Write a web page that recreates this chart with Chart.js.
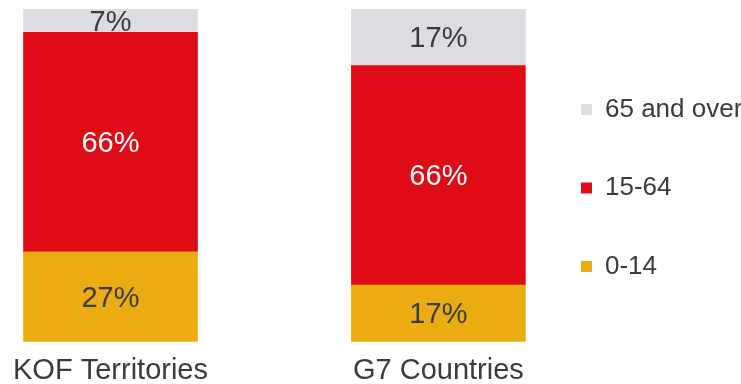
<!DOCTYPE html>
<html>
<head>
<meta charset="utf-8">
<script src="https://cdn.jsdelivr.net/npm/chart.js@4/dist/chart.umd.min.js"></script>
<style>
  html, body { margin: 0; padding: 0; background: #ffffff; }
  #wrap { width: 741px; height: 384px; }
</style>
</head>
<body>
<div id="wrap"><canvas id="c" width="741" height="384"></canvas></div>
<script>
// Population by age group, share of total (%)
const categories = ['KOF Territories', 'G7 Countries'];
const age0to14 = [27, 17];
const age15to64 = [66, 66];
const age65plus = [7, 17];
const seriesNames = ['0-14', '15-64', '65 and over'];

const FONT = '"Liberation Sans", Arial, Helvetica, sans-serif';
const TEXT = '#3b3b3b';

function points(values) {
  return values.map((v, i) => ({ x: i, y: v }));
}

// Writes each segment's percentage in the middle of its bar segment
const segmentLabels = {
  id: 'segmentLabels',
  afterDatasetsDraw(chart) {
    const ctx = chart.ctx;
    ctx.save();
    ctx.font = '29px ' + FONT;
    ctx.textAlign = 'center';
    ctx.textBaseline = 'middle';
    chart.data.datasets.forEach((ds, di) => {
      const meta = chart.getDatasetMeta(di);
      meta.data.forEach((bar, j) => {
        const p = bar.getProps(['x', 'y', 'base'], true);
        ctx.fillStyle = ds.labelColor;
        ctx.fillText(ds.data[j].y + '%', p.x, (p.y + p.base) / 2 + 2);
      });
    });
    ctx.restore();
  }
};

new Chart(document.getElementById('c'), {
  type: 'bar',
  data: {
    datasets: [
      { label: seriesNames[0], data: points(age0to14), backgroundColor: '#EBAC12', labelColor: TEXT },
      { label: seriesNames[1], data: points(age15to64), backgroundColor: '#DF0C17', labelColor: '#ffffff' },
      { label: seriesNames[2], data: points(age65plus), backgroundColor: '#DCDDE1', labelColor: TEXT }
    ]
  },
  options: {
    responsive: false,
    animation: false,
    events: [],
    barThickness: 174,
    borderWidth: 0,
    layout: { padding: { top: 9, bottom: 0, left: 0, right: 0 } },
    scales: {
      x: {
        type: 'linear',
        stacked: true,
        offset: false,
        min: -0.337,
        max: 1.2745,
        grid: { display: false, drawTicks: false },
        border: { display: false },
        afterBuildTicks(scale) {
          scale.ticks = categories.map((_, i) => ({ value: i }));
        },
        afterFit(scale) {
          scale.height = 42.3;
        },
        ticks: {
          padding: 12,
          color: TEXT,
          font: { family: FONT, size: 29 },
          maxRotation: 0,
          autoSkip: false,
          callback: (v) => categories[v]
        }
      },
      y: {
        stacked: true,
        display: false,
        min: 0,
        max: 100
      }
    },
    plugins: {
      tooltip: { enabled: false },
      legend: {
        position: 'right',
        fullSize: false,
        reverse: true,
        maxWidth: 212.6,
        title: { display: true, text: '', padding: 0, font: { size: 25.3, lineHeight: 1 } },
        labels: {
          boxWidth: 11,
          boxHeight: 11,
          padding: 52.6,
          color: TEXT,
          font: { family: FONT, size: 26 }
        }
      }
    }
  },
  plugins: [segmentLabels]
});
</script>
</body>
</html>
